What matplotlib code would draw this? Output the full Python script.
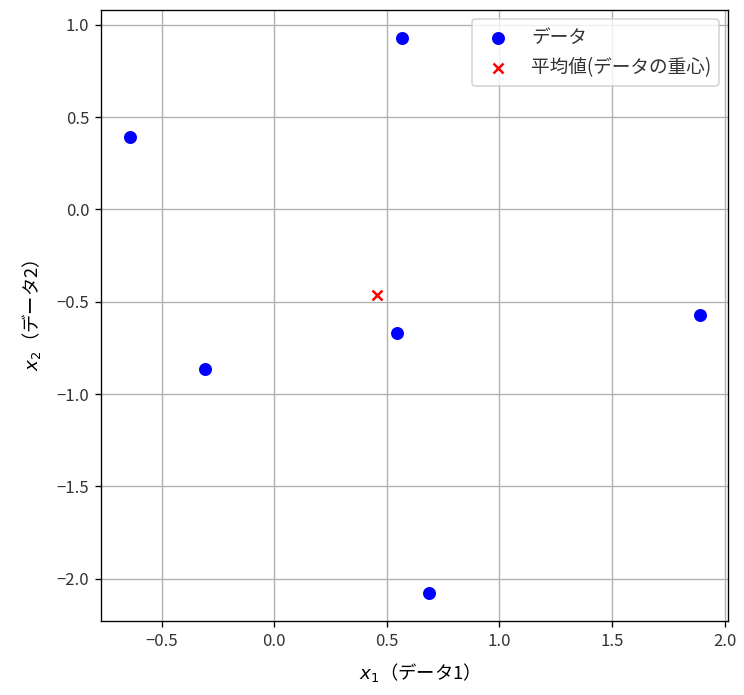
import matplotlib
matplotlib.use("Agg")
import matplotlib.pyplot as plt
import numpy as np

plt.rcParams["font.family"] = ["Noto Sans CJK JP", "DejaVu Sans"]
plt.rcParams["text.color"] = "#333333"
plt.rcParams["xtick.labelcolor"] = "#333333"
plt.rcParams["ytick.labelcolor"] = "#333333"

# data points
x1 = np.array([-0.642, 0.568, -0.305, 0.543, 0.685, 1.889])
x2 = np.array([0.394, 0.930, -0.866, -0.671, -2.079, -0.572])

# centroid marker as drawn
mean_x1 = 0.458
mean_x2 = -0.464

fig = plt.figure(figsize=(744 / 120, 695 / 120), dpi=120)
ax = fig.add_axes([0.1358, 0.1065, 0.8431, 0.8791])

ax.scatter(x1, x2, c="blue", s=46, label="データ")
ax.scatter(mean_x1, mean_x2, c="red", marker="x", s=36,
           label="平均値(データの重心)")

ax.set_xlabel("$x_1$（データ1）", fontsize=11, labelpad=7)
ax.set_ylabel("$x_2$（データ2）", fontsize=11, labelpad=8)
ax.grid(True)
ax.legend(loc="upper right", fontsize=11.2)

fig.savefig("out.png", dpi=120)
